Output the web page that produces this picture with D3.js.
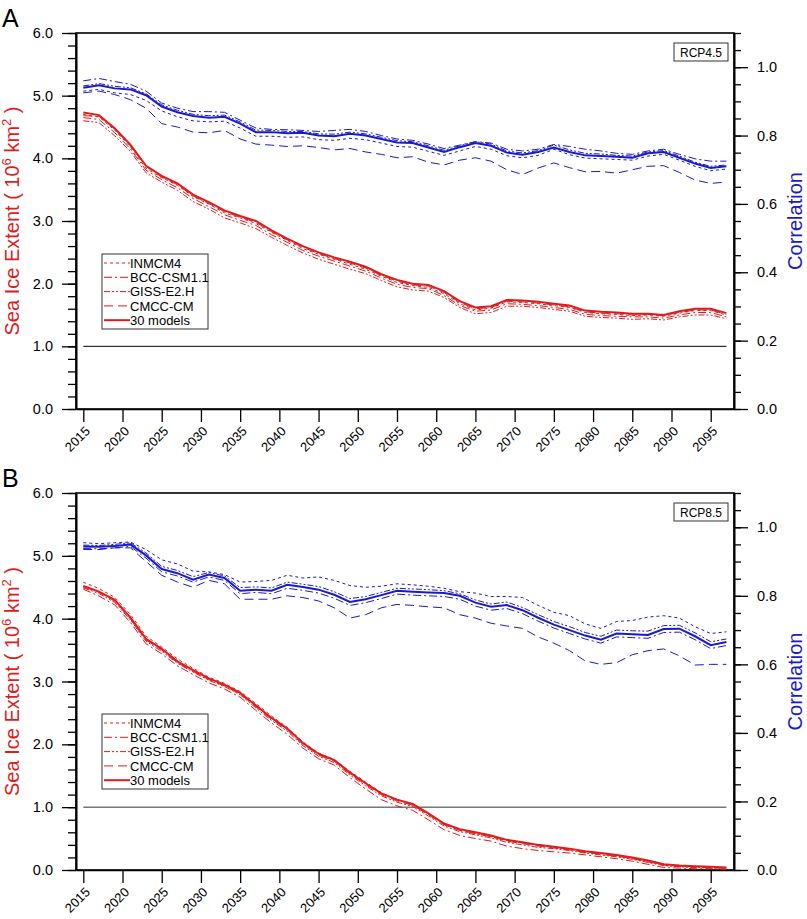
<!DOCTYPE html>
<html>
<head>
<meta charset="utf-8">
<script src="https://cdn.jsdelivr.net/npm/d3@7"></script>
<style>
  body { margin: 0; background: #fff; }
  text { font-family: "Liberation Sans", Arial, Helvetica, sans-serif; }
</style>
</head>
<body>
<svg id="chart"></svg>
<script>
const width = 807, height = 919;

// years of the smoothed series (every 2 years)
const years = [2015,2017,2019,2021,2023,2025,2027,2029,2031,2033,2035,2037,2039,2041,
  2043,2045,2047,2049,2051,2053,2055,2057,2059,2061,2063,2065,2067,2069,2071,2073,
  2075,2077,2079,2081,2083,2085,2087,2089,2091,2093,2095,2097];
const xTicks = [2015,2020,2025,2030,2035,2040,2045,2050,2055,2060,2065,2070,2075,2080,2085,2090,2095];
const leftTicks = [0,1,2,3,4,5,6];
const rightTicks = [0,0.2,0.4,0.6,0.8,1.0];
const modelNames = ["INMCM4","BCC-CSM1.1","GISS-E2.H","CMCC-CM"];
const meanName = "30 models";
const thresholdLevel = 1.0;

// ---- panel A, RCP4.5 : sea ice extent (10^6 km^2)
const extA_INM  = [4.70,4.66,4.45,4.18,3.84,3.69,3.57,3.39,3.27,3.13,3.05,2.96,2.82,2.69,2.56,2.47,2.39,2.31,2.23,2.12,2.02,1.97,1.94,1.84,1.68,1.58,1.61,1.71,1.70,1.68,1.65,1.62,1.54,1.52,1.51,1.49,1.50,1.48,1.53,1.57,1.57,1.50];
const extA_BCC  = [4.65,4.62,4.41,4.15,3.81,3.66,3.53,3.36,3.23,3.10,3.01,2.93,2.78,2.66,2.53,2.44,2.36,2.28,2.20,2.09,1.99,1.94,1.92,1.81,1.65,1.56,1.58,1.68,1.67,1.65,1.62,1.59,1.51,1.49,1.48,1.47,1.47,1.45,1.50,1.54,1.54,1.47];
const extA_GISS = [4.60,4.57,4.36,4.11,3.77,3.62,3.49,3.31,3.19,3.05,2.97,2.88,2.74,2.61,2.49,2.39,2.31,2.23,2.16,2.05,1.95,1.90,1.88,1.78,1.62,1.52,1.54,1.64,1.64,1.62,1.59,1.56,1.48,1.46,1.45,1.43,1.44,1.42,1.47,1.50,1.50,1.44];
const extA_CMCC = [4.68,4.67,4.47,4.20,3.87,3.70,3.58,3.40,3.28,3.15,3.06,2.98,2.83,2.70,2.58,2.48,2.40,2.33,2.25,2.13,2.04,1.98,1.96,1.86,1.70,1.60,1.62,1.72,1.71,1.69,1.66,1.63,1.55,1.53,1.52,1.50,1.51,1.49,1.54,1.58,1.58,1.51];
const extA_30   = [4.73,4.69,4.48,4.22,3.88,3.72,3.60,3.42,3.30,3.17,3.08,3.00,2.85,2.72,2.60,2.50,2.42,2.35,2.27,2.15,2.06,2.00,1.98,1.88,1.72,1.62,1.64,1.74,1.73,1.71,1.68,1.65,1.57,1.55,1.54,1.52,1.52,1.50,1.56,1.60,1.60,1.53];
// ---- panel A : correlation
const corA_INM  = [0.930,0.935,0.925,0.920,0.903,0.872,0.855,0.843,0.840,0.842,0.822,0.798,0.798,0.795,0.796,0.788,0.786,0.792,0.788,0.778,0.768,0.766,0.754,0.742,0.755,0.768,0.760,0.741,0.735,0.742,0.760,0.744,0.734,0.732,0.730,0.728,0.740,0.745,0.728,0.710,0.697,0.702];
const corA_BCC  = [0.960,0.967,0.958,0.950,0.930,0.895,0.880,0.870,0.870,0.868,0.845,0.822,0.818,0.817,0.815,0.812,0.815,0.818,0.812,0.800,0.790,0.786,0.775,0.762,0.772,0.782,0.778,0.760,0.755,0.760,0.774,0.768,0.760,0.755,0.748,0.745,0.755,0.760,0.745,0.732,0.725,0.725];
const corA_GISS = [0.945,0.952,0.944,0.940,0.922,0.890,0.874,0.862,0.858,0.860,0.840,0.816,0.815,0.812,0.812,0.805,0.804,0.810,0.805,0.795,0.785,0.782,0.770,0.757,0.770,0.782,0.775,0.755,0.749,0.756,0.772,0.758,0.748,0.746,0.742,0.740,0.752,0.756,0.740,0.722,0.710,0.714];
const corA_CMCC = [0.925,0.930,0.920,0.905,0.880,0.835,0.825,0.810,0.808,0.815,0.790,0.775,0.772,0.768,0.770,0.765,0.758,0.762,0.752,0.745,0.735,0.738,0.722,0.714,0.728,0.735,0.725,0.700,0.686,0.705,0.720,0.706,0.694,0.695,0.690,0.700,0.710,0.712,0.692,0.670,0.660,0.664];
const corA_30   = [0.940,0.947,0.938,0.935,0.918,0.885,0.868,0.857,0.852,0.855,0.835,0.810,0.810,0.807,0.808,0.800,0.798,0.805,0.800,0.790,0.780,0.778,0.765,0.752,0.766,0.778,0.770,0.750,0.744,0.752,0.765,0.752,0.742,0.740,0.738,0.735,0.748,0.752,0.735,0.718,0.705,0.710];

// ---- panel B, RCP8.5 : sea ice extent
const extB_INM  = [4.58,4.48,4.34,4.07,3.72,3.55,3.36,3.21,3.07,2.97,2.84,2.65,2.45,2.27,2.04,1.86,1.76,1.57,1.40,1.23,1.12,1.04,0.89,0.73,0.63,0.58,0.53,0.47,0.43,0.39,0.36,0.33,0.29,0.26,0.23,0.19,0.14,0.08,0.06,0.05,0.04,0.03];
const extB_BCC  = [4.47,4.36,4.22,3.94,3.60,3.44,3.25,3.11,2.98,2.88,2.75,2.54,2.34,2.16,1.94,1.77,1.67,1.47,1.29,1.12,1.02,0.95,0.80,0.64,0.55,0.50,0.46,0.38,0.34,0.31,0.29,0.27,0.24,0.21,0.18,0.14,0.09,0.04,0.03,0.02,0.02,0.01];
const extB_GISS = [4.49,4.40,4.26,3.98,3.64,3.48,3.29,3.15,3.02,2.92,2.79,2.58,2.38,2.21,1.98,1.81,1.71,1.51,1.34,1.18,1.08,1.01,0.86,0.70,0.61,0.56,0.51,0.44,0.40,0.36,0.34,0.31,0.27,0.24,0.21,0.17,0.12,0.07,0.05,0.04,0.03,0.03];
const extB_CMCC = [4.51,4.42,4.28,4.00,3.66,3.50,3.30,3.16,3.03,2.93,2.80,2.60,2.40,2.23,2.00,1.83,1.73,1.53,1.36,1.20,1.10,1.03,0.88,0.72,0.63,0.58,0.53,0.46,0.42,0.38,0.35,0.32,0.28,0.25,0.22,0.18,0.13,0.08,0.06,0.05,0.04,0.03];
const extB_30   = [4.52,4.43,4.30,4.02,3.68,3.52,3.32,3.18,3.05,2.95,2.82,2.62,2.42,2.25,2.02,1.85,1.75,1.55,1.38,1.22,1.12,1.05,0.90,0.74,0.65,0.60,0.55,0.48,0.44,0.40,0.37,0.34,0.30,0.27,0.24,0.20,0.15,0.09,0.07,0.06,0.05,0.04];
// ---- panel B : correlation
const corB_INM  = [0.955,0.952,0.955,0.957,0.935,0.905,0.893,0.872,0.870,0.862,0.840,0.842,0.845,0.860,0.852,0.855,0.845,0.830,0.825,0.828,0.835,0.832,0.828,0.822,0.812,0.808,0.798,0.798,0.795,0.772,0.752,0.742,0.718,0.705,0.725,0.728,0.738,0.742,0.735,0.710,0.690,0.695];
const corB_BCC  = [0.938,0.937,0.940,0.944,0.910,0.870,0.858,0.840,0.855,0.845,0.806,0.810,0.806,0.822,0.816,0.808,0.793,0.772,0.780,0.792,0.805,0.802,0.800,0.798,0.790,0.770,0.758,0.763,0.748,0.726,0.706,0.690,0.674,0.662,0.680,0.678,0.676,0.693,0.694,0.672,0.646,0.655];
const corB_GISS = [0.948,0.947,0.950,0.955,0.925,0.886,0.874,0.856,0.868,0.858,0.824,0.826,0.823,0.840,0.834,0.827,0.812,0.792,0.798,0.810,0.822,0.820,0.818,0.815,0.806,0.788,0.776,0.782,0.766,0.745,0.725,0.710,0.693,0.682,0.700,0.698,0.697,0.713,0.714,0.692,0.666,0.674];
const corB_CMCC = [0.935,0.935,0.940,0.940,0.900,0.860,0.840,0.825,0.845,0.835,0.790,0.790,0.790,0.800,0.795,0.785,0.765,0.735,0.745,0.765,0.775,0.772,0.768,0.765,0.745,0.735,0.720,0.712,0.705,0.680,0.662,0.640,0.610,0.600,0.605,0.628,0.640,0.645,0.625,0.598,0.600,0.600];
const corB_30   = [0.944,0.943,0.945,0.950,0.918,0.878,0.866,0.847,0.862,0.852,0.815,0.818,0.815,0.832,0.826,0.818,0.803,0.782,0.790,0.802,0.815,0.812,0.810,0.808,0.800,0.780,0.768,0.773,0.758,0.736,0.716,0.700,0.684,0.672,0.690,0.688,0.686,0.703,0.704,0.682,0.656,0.665];

const RED = "#e01b1d", BLUE = "#1a1ac8";
const dashes = ["3,3", "8,3,2,3", "6,2,2,2,2,2", "9,5"];

const svg = d3.select("#chart").attr("width", width).attr("height", height);

const left = 76, right = 734;
const x = d3.scaleLinear().domain([2014.07, 2097.97]).range([left, right]);

function drawPanel(top, bottom, letter, scen, ext, cor, lineColor) {
  const g = svg.append("g");
  const yL = d3.scaleLinear().domain([0, 6]).range([bottom, top]);
  const yR = d3.scaleLinear().domain([0, 1.1]).range([bottom, top]);

  // minor ticks
  g.append("g").attr("transform", `translate(${left},0)`)
    .call(d3.axisLeft(yL).tickValues(d3.range(0, 6.01, 0.2)).tickSize(8).tickSizeOuter(0).tickFormat(""));
  g.append("g").attr("transform", `translate(${right},0)`)
    .call(d3.axisRight(yR).tickValues(d3.range(0, 1.101, 0.05)).tickSize(7).tickSizeOuter(0).tickFormat(""));

  // major ticks
  g.append("g").attr("transform", `translate(${left},0)`)
    .call(d3.axisLeft(yL).tickValues(leftTicks).tickSize(14).tickSizeOuter(0).tickPadding(9).tickFormat(d3.format(".1f")))
    .selectAll("text").attr("font-size", 14.5).attr("fill", "#000");
  g.append("g").attr("transform", `translate(${right},0)`)
    .call(d3.axisRight(yR).tickValues(rightTicks).tickSize(14).tickSizeOuter(0).tickPadding(9).tickFormat(d3.format(".1f")))
    .selectAll("text").attr("font-size", 14.5).attr("fill", "#000");

  const xa = g.append("g").attr("transform", `translate(0,${bottom})`)
    .call(d3.axisBottom(x).tickValues(xTicks).tickSize(13).tickSizeOuter(0).tickFormat(d => d));
  xa.selectAll("text")
    .attr("font-size", 13).attr("fill", "#000")
    .attr("text-anchor", "end")
    .attr("dy", null)
    .attr("y", 0)
    .attr("transform", "translate(7,23) rotate(-45)");

  g.selectAll(".domain").attr("stroke-width", 1.6);
  g.selectAll(".tick line").attr("stroke-width", 1.3);

  // frame
  g.append("rect").attr("x", left).attr("y", top)
    .attr("width", right - left).attr("height", bottom - top)
    .attr("fill", "none").attr("stroke", "#000").attr("stroke-width", 1.6);

  // reference line at 1.0
  g.append("path")
    .datum([[years[0], thresholdLevel], [years[years.length - 1], thresholdLevel]])
    .attr("fill", "none").attr("stroke", lineColor).attr("stroke-width", 1)
    .attr("d", d3.line().x(d => x(d[0])).y(d => yL(d[1])));

  const lineL = d3.line().x(d => x(d[0])).y(d => yL(d[1]));
  const lineR = d3.line().x(d => x(d[0])).y(d => yR(d[1]));

  // correlation (blue, right axis)
  cor.forEach((vals, i) => {
    const main = i === cor.length - 1;
    g.append("path").datum(d3.zip(years, vals))
      .attr("fill", "none").attr("stroke", BLUE)
      .attr("stroke-width", main ? 2 : 1)
      .attr("stroke-dasharray", main ? null : dashes[i])
      .attr("d", lineR);
  });
  // extent (red, left axis)
  ext.forEach((vals, i) => {
    const main = i === ext.length - 1;
    g.append("path").datum(d3.zip(years, vals))
      .attr("fill", "none").attr("stroke", RED)
      .attr("stroke-width", main ? 2 : 1)
      .attr("stroke-dasharray", main ? null : dashes[i])
      .attr("d", lineL);
  });

  // scenario label box
  const sb = g.append("g").attr("transform", `translate(674,${top + 10})`);
  sb.append("rect").attr("width", 54).attr("height", 18)
    .attr("fill", "#fff").attr("stroke", "#333").attr("stroke-width", 1);
  sb.append("text").attr("x", 27).attr("y", 13.5).attr("text-anchor", "middle")
    .attr("font-size", 12).text(scen);

  // legend
  const lg = g.append("g").attr("transform", `translate(102,${top + 221})`);
  lg.append("rect").attr("width", 106).attr("height", 75)
    .attr("fill", "#fff").attr("stroke", "#333").attr("stroke-width", 1);
  const names = modelNames.concat([meanName]);
  names.forEach((nm, i) => {
    const yy = 9 + i * 14.3;
    const main = i === names.length - 1;
    lg.append("line").attr("x1", 2).attr("x2", 28).attr("y1", yy).attr("y2", yy)
      .attr("stroke", RED).attr("stroke-width", main ? 2 : 1)
      .attr("stroke-dasharray", main ? null : dashes[i]);
    lg.append("text").attr("x", 28).attr("y", yy + 4.6).attr("font-size", 13).text(nm);
  });

  // axis titles
  const mid = (top + bottom) / 2;
  const yt = g.append("text").attr("transform", `translate(19,${mid}) rotate(-90)`)
    .attr("text-anchor", "middle").attr("fill", RED).attr("font-size", 20);
  yt.append("tspan").text("Sea Ice Extent ( 10");
  yt.append("tspan").attr("font-size", 13).attr("dy", -8).text("6");
  yt.append("tspan").attr("dy", 8).text(" km");
  yt.append("tspan").attr("font-size", 13).attr("dy", -8).text("2");
  yt.append("tspan").attr("dy", 8).text(" )");

  g.append("text").attr("transform", `translate(802,${mid}) rotate(-90)`)
    .attr("text-anchor", "middle").attr("fill", BLUE).attr("font-size", 20).text("Correlation");

  svg.append("text").attr("x", 2).attr("y", top - 6).attr("font-size", 25).text(letter);
}

drawPanel(33, 409, "A", "RCP4.5",
  [extA_INM, extA_BCC, extA_GISS, extA_CMCC, extA_30],
  [corA_INM, corA_BCC, corA_GISS, corA_CMCC, corA_30], "#000");
drawPanel(493, 870, "B", "RCP8.5",
  [extB_INM, extB_BCC, extB_GISS, extB_CMCC, extB_30],
  [corB_INM, corB_BCC, corB_GISS, corB_CMCC, corB_30], "#333");
</script>
</body>
</html>
